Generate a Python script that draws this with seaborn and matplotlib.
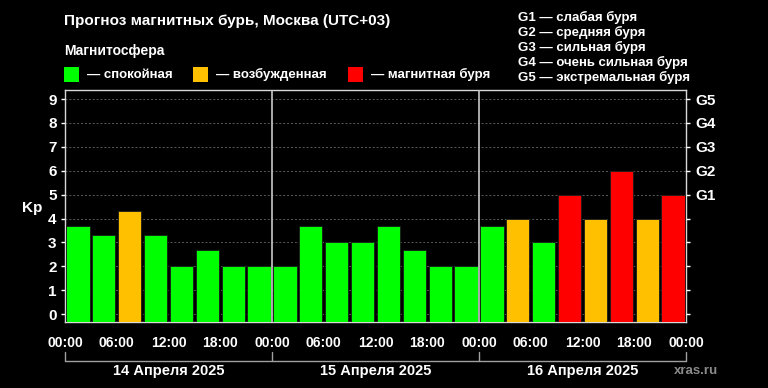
import pandas as pd
import matplotlib.pyplot as plt
import matplotlib.transforms as mtransforms
from matplotlib.patches import Rectangle
import seaborn as sns

# Data
days = ["14 Апреля 2025", "15 Апреля 2025", "16 Апреля 2025"]
kp_day1 = [3.67, 3.33, 4.33, 3.33, 2.0, 2.67, 2.0, 2.0]
kp_day2 = [2.0, 3.67, 3.0, 3.0, 3.67, 2.67, 2.0, 2.0]
kp_day3 = [3.67, 4.0, 3.0, 5.0, 4.0, 6.0, 4.0, 5.0]
hour_labels = ["00:00", "06:00", "12:00", "18:00"]
storm_levels = ["G1", "G2", "G3", "G4", "G5"]
storm_names = ["слабая буря", "средняя буря", "сильная буря",
               "очень сильная буря", "экстремальная буря"]
state_names = ["спокойная", "возбужденная", "магнитная буря"]
state_colors = ["#00ff00", "#ffc000", "#ff0000"]

W, H = 768, 388
BASE = -0.33


def state_of(kp):
    if kp >= 5:
        return state_names[2]
    if kp >= 4:
        return state_names[1]
    return state_names[0]


def fx(px):
    return px / W


def fy(py):
    return 1 - py / H


kp_all = kp_day1 + kp_day2 + kp_day3
df = pd.DataFrame({"slot": range(len(kp_all)), "kp": kp_all})
df["state"] = df["kp"].apply(state_of)

sns.set_theme(style="dark", rc={
    "figure.facecolor": "black",
    "axes.facecolor": "black",
    "axes.edgecolor": "#d8d8d8",
    "text.color": "white",
    "xtick.color": "white",
    "ytick.color": "white",
})
plt.rcParams["font.family"] = ["Liberation Sans", "DejaVu Sans"]
plt.rcParams["font.weight"] = "bold"

fig = plt.figure(figsize=(W / 100, H / 100), dpi=100)
ax = fig.add_axes([fx(65), fy(322), fx(686) - fx(65), fy(90) - fy(322)])

sns.barplot(data=df, x="slot", y="kp", hue="state", hue_order=state_names,
            palette=dict(zip(state_names, state_colors)), dodge=False,
            width=0.9, edgecolor="#1a1a1a", linewidth=0.6, legend=False,
            saturation=1, ax=ax, zorder=3)

# bars start from the bottom edge of the plot area
for p in ax.patches:
    h = p.get_height()
    p.set_y(BASE)
    p.set_height(h - BASE)

ax.set_xlim(-0.5, len(kp_all) - 0.5)
ax.set_ylim(BASE, 9.38)

# y axis
ax.set_yticks(range(10))
ax.set_yticklabels([str(i) for i in range(10)], fontsize=11, fontweight="bold")
ax.tick_params(axis="y", length=3, width=1, pad=3, colors="white")
ax.yaxis.grid(True, color="#5a5a5a", linestyle=(0, (2, 2)), linewidth=0.7)
ax.xaxis.grid(False)
ax.set_axisbelow(True)
ax.set_ylabel("")
ax.set_xlabel("")

# x axis
ticks = [i - 0.5 for i in range(len(kp_all) + 1)]
labels = [hour_labels[(i // 2) % 4] if i % 2 == 0 else "" for i in range(len(ticks))]
ax.set_xticks(ticks)
ax.set_xticklabels(labels, fontsize=10, fontweight="bold")
ax.tick_params(axis="x", length=4, width=1, pad=6, colors="white")

for sp in ax.spines.values():
    sp.set_color("#d8d8d8")
    sp.set_linewidth(1)

# day separators
for d in range(1, len(days)):
    ax.axvline(d * 8 - 0.5, color="#c8c8c8", linewidth=1.2, zorder=4)

# right axis with storm levels
ax2 = ax.twinx()
ax2.set_ylim(ax.get_ylim())
ax2.set_yticks(range(10))
ax2.set_yticklabels([""] * 5 + storm_levels, fontsize=11, fontweight="bold")
ax2.tick_params(axis="y", length=3, width=1, pad=4, colors="white")
ax2.grid(False)
for sp in ax2.spines.values():
    sp.set_visible(False)

# day brackets below the axis
trans = mtransforms.blended_transform_factory(ax.transData, ax.transAxes)
ax.plot([-0.5, len(kp_all) - 0.5], [-0.168, -0.168], color="#a0a0a0",
        linewidth=1, transform=trans, clip_on=False)
for d in range(len(days) + 1):
    ax.plot([d * 8 - 0.5] * 2, [-0.128, -0.168], color="#a0a0a0",
            linewidth=1, transform=trans, clip_on=False)
for d, name in enumerate(days):
    ax.text(d * 8 + 3.5, -0.212, name, transform=trans, ha="center", va="center",
            fontsize=10.5, fontweight="bold", color="white")
fig.text(fx(696), fy(371), "xras.ru", ha="center", va="center",
         fontsize=9.5, color="#8a8a8a", fontweight="bold")

# Kp label
fig.text(fx(32), fy(208), "Kp", ha="center", va="center",
         fontsize=11, fontweight="bold")

# titles
fig.text(fx(64), fy(21), "Прогноз магнитных бурь, Москва (UTC+03)",
         ha="left", va="center", fontsize=11, fontweight="bold")
fig.text(fx(64), fy(51), "Магнитосфера", ha="left", va="center",
         fontsize=10, fontweight="bold")

# magnetosphere legend
sq_x = [64, 193, 348]
for x0, name, col in zip(sq_x, state_names, state_colors):
    fig.patches.append(Rectangle((fx(x0), fy(82)), fx(15), fy(67) - fy(82),
                                 transform=fig.transFigure, facecolor=col,
                                 edgecolor="none"))
    fig.text(fx(x0 + 23), fy(74.5), "— " + name, ha="left", va="center",
             fontsize=9.5, fontweight="bold")

# storm legend
for i, (lvl, name) in enumerate(zip(storm_levels, storm_names)):
    fig.text(fx(518), fy(17 + i * 15.2), lvl + " — " + name, ha="left",
             va="center", fontsize=9.5, fontweight="bold")

fig.savefig("out.png", dpi=100, facecolor="black")
